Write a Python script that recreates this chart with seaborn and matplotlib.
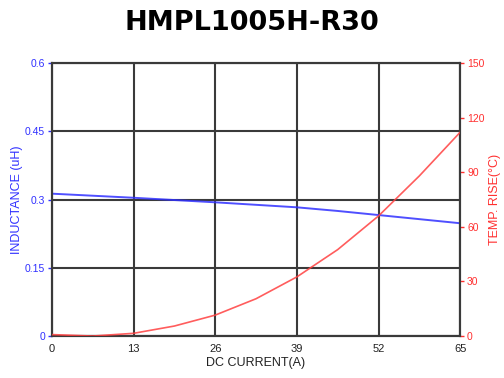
import matplotlib
matplotlib.use("Agg")
import matplotlib.pyplot as plt
import seaborn as sns
import pandas as pd

current = [0, 6.5, 13, 19.5, 26, 32.5, 39, 45.5, 52, 58.5, 65]
inductance = [0.313, 0.3085, 0.304, 0.299, 0.294, 0.2885, 0.283, 0.275, 0.266, 0.257, 0.248]
temp_rise = [0.8, 0.0, 1.5, 5.5, 11.5, 20.5, 32.5, 47.5, 66.0, 88.0, 112.0]

x_ticks = [0, 13, 26, 39, 52, 65]
l_ticks = [0, 0.15, 0.3, 0.45, 0.6]
l_labels = ["0", "0.15", "0.3", "0.45", "0.6"]
r_ticks = [0, 30, 60, 90, 120, 150]

sns.set_theme(style="white")
plt.rcParams['font.family'] = ['Liberation Sans', 'DejaVu Sans']

df = pd.DataFrame({"current": current, "L": inductance, "T": temp_rise})

fig = plt.figure(figsize=(5.04, 3.78), dpi=100)
ax = fig.add_axes([0.103, 0.111, 0.810, 0.722])
ax2 = ax.twinx()

grid_c = "#3a3a3a"
for v in x_ticks:
    ax.axvline(v, color=grid_c, lw=1.5, zorder=1)
for v in l_ticks:
    ax.axhline(v, color=grid_c, lw=1.5, zorder=1)

sns.lineplot(data=df, x="current", y="L", ax=ax, color="#3030ff", lw=1.4, alpha=0.85, zorder=3)
sns.lineplot(data=df, x="current", y="T", ax=ax2, color="#ff4040", lw=1.2, alpha=0.85, zorder=3)

ax.set_xlim(0, 65)
ax.set_ylim(0, 0.6)
ax2.set_ylim(0, 150)

ax.set_xticks(x_ticks)
ax.set_xticklabels([str(v) for v in x_ticks], fontsize=8, color="#222222")
ax.set_yticks(l_ticks)
ax.set_yticklabels(l_labels, fontsize=7.5, color="#3030ff")
ax2.set_yticks(r_ticks)
ax2.set_yticklabels([str(v) for v in r_ticks], fontsize=7.5, color="#ff3030")

ax.tick_params(axis="x", length=0, pad=6)
ax.tick_params(axis="y", length=3, width=1, color="#3030ff", pad=2, left=True)
ax2.tick_params(axis="y", length=3, width=1, color="#ff3030", pad=2, right=True)

for a in (ax, ax2):
    for s in a.spines.values():
        s.set_color(grid_c)
        s.set_linewidth(1.5)

ax.set_xlabel("DC CURRENT(A)", fontsize=9, color="#222222", labelpad=2)
ax.set_ylabel("INDUCTANCE (uH)", fontsize=9, color="#3030ff", labelpad=1)
ax2.set_ylabel("TEMP. RISE(°C)", fontsize=9, color="#ff3030", labelpad=3)

fig.text(0.5, 0.938, "HMPL1005H-R30", ha="center", va="center", color="black",
         fontsize=19.5, fontweight="bold", family=["DejaVu Sans"])

fig.savefig("out.png", dpi=100)
